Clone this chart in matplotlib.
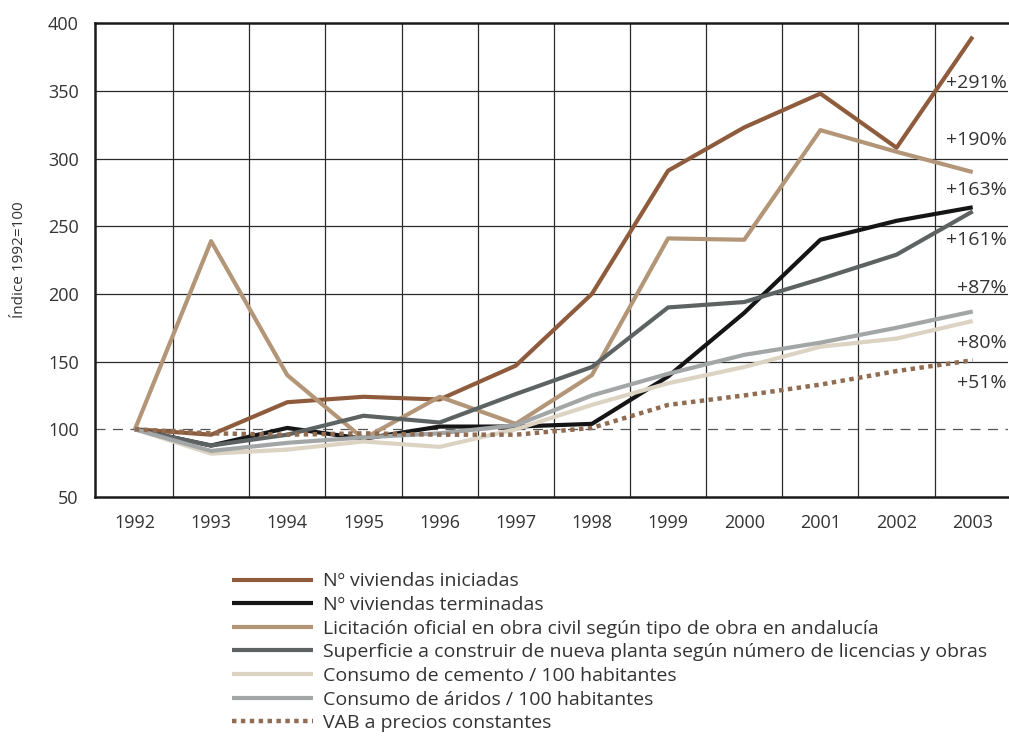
import matplotlib
matplotlib.use("Agg")
import matplotlib.pyplot as plt
import numpy as np

plt.rcParams["font.family"] = ["Open Sans", "DejaVu Sans"]

# ── Data (índice 1992=100) ───────────────────────────────────────────────────
years = [1992, 1993, 1994, 1995, 1996, 1997, 1998, 1999, 2000, 2001, 2002, 2003]

viv_iniciadas   = [100, 96, 120, 124, 122, 147, 200, 291, 323, 348, 308, 390]
viv_terminadas  = [100, 88, 101, 93, 102, 102, 104, 139, 186, 240, 254, 264]
licitacion      = [100, 239, 140, 93, 124, 104, 140, 241, 240, 321, 305, 290]
superficie      = [100, 88, 96, 110, 105, 126, 146, 190, 194, 211, 229, 261]
cemento         = [100, 82, 85, 91, 87, 100, 118, 134, 146, 161, 167, 180]
aridos          = [100, 84, 90, 94, 97, 103, 125, 141, 155, 164, 175, 187]
vab             = [100, 97, 96, 97, 96, 96, 101, 118, 125, 133, 143, 151]

series_labels = [
    "Nº viviendas iniciadas",
    "Nº viviendas terminadas",
    "Licitación oficial en obra civil según tipo de obra en andalucía",
    "Superficie a construir de nueva planta según número de licencias y obras",
    "Consumo de cemento / 100 habitantes",
    "Consumo de áridos / 100 habitantes",
    "VAB a precios constantes",
]

end_labels = ["+291%", "+190%", "+163%", "+161%", "+87%", "+80%", "+51%"]
end_label_y = [356, 314, 277, 240, 204, 164, 134]

# ── Styles ───────────────────────────────────────────────────────────────────
colors = ["#8e5c3c", "#151515", "#b39578", "#5d6262", "#dcd3c3", "#a2a6a6", "#8f6c52"]
TEXT = "#333333"

fig = plt.figure(figsize=(10.09, 7.38), dpi=100)
ax = fig.add_axes([0.0945, 0.3266, 0.905, 0.6420])

ax.set_xlim(1991.48, 2003.47)
ax.set_ylim(50, 400)

# grid: vertical lines between years, horizontal every 50
for xv in np.arange(1992.5, 2003.0, 1.0):
    ax.axvline(xv, color="#2a2a2a", lw=0.9, zorder=0)
for yv in range(150, 400, 50):
    ax.axhline(yv, color="#2a2a2a", lw=0.9, zorder=0)
ax.axhline(100, color="#555555", lw=0.9, ls=(0, (8, 6)), zorder=0)

all_series = [viv_iniciadas, viv_terminadas, licitacion, superficie, cemento, aridos]
handles = []
for vals, col, lab in zip(all_series, colors[:6], series_labels[:6]):
    h, = ax.plot(years, vals, color=col, lw=3.0, label=lab, solid_capstyle="butt", zorder=3)
    handles.append(h)
h, = ax.plot(years, vab, color=colors[6], lw=3.2, ls=(0, (1.0, 1.0)),
             label=series_labels[6], zorder=3)
handles.append(h)

for lab, yv in zip(end_labels, end_label_y):
    ax.text(2003.45, yv, lab, ha="right", va="center", fontsize=14, color=TEXT)

ax.set_xticks(years)
ax.set_yticks(range(50, 401, 50))
ax.tick_params(length=0, labelsize=13, labelcolor=TEXT)
ax.tick_params(axis="y", pad=12)
ax.tick_params(axis="x", pad=12)
ax.set_ylabel("Índice 1992=100", fontsize=11, color=TEXT, labelpad=15)

for s in ["left", "bottom", "top"]:
    ax.spines[s].set_linewidth(1.8)
    ax.spines[s].set_color("#1a1a1a")
ax.spines["right"].set_visible(False)

fig.legend(handles=handles, loc="upper left", bbox_to_anchor=(0.222, 0.235),
           frameon=False, fontsize=14, handlelength=4.2, handletextpad=0.5,
           labelspacing=0.29, borderaxespad=0)
for t in fig.legends[0].get_texts():
    t.set_color(TEXT)

fig.savefig("out.png", dpi=100)
